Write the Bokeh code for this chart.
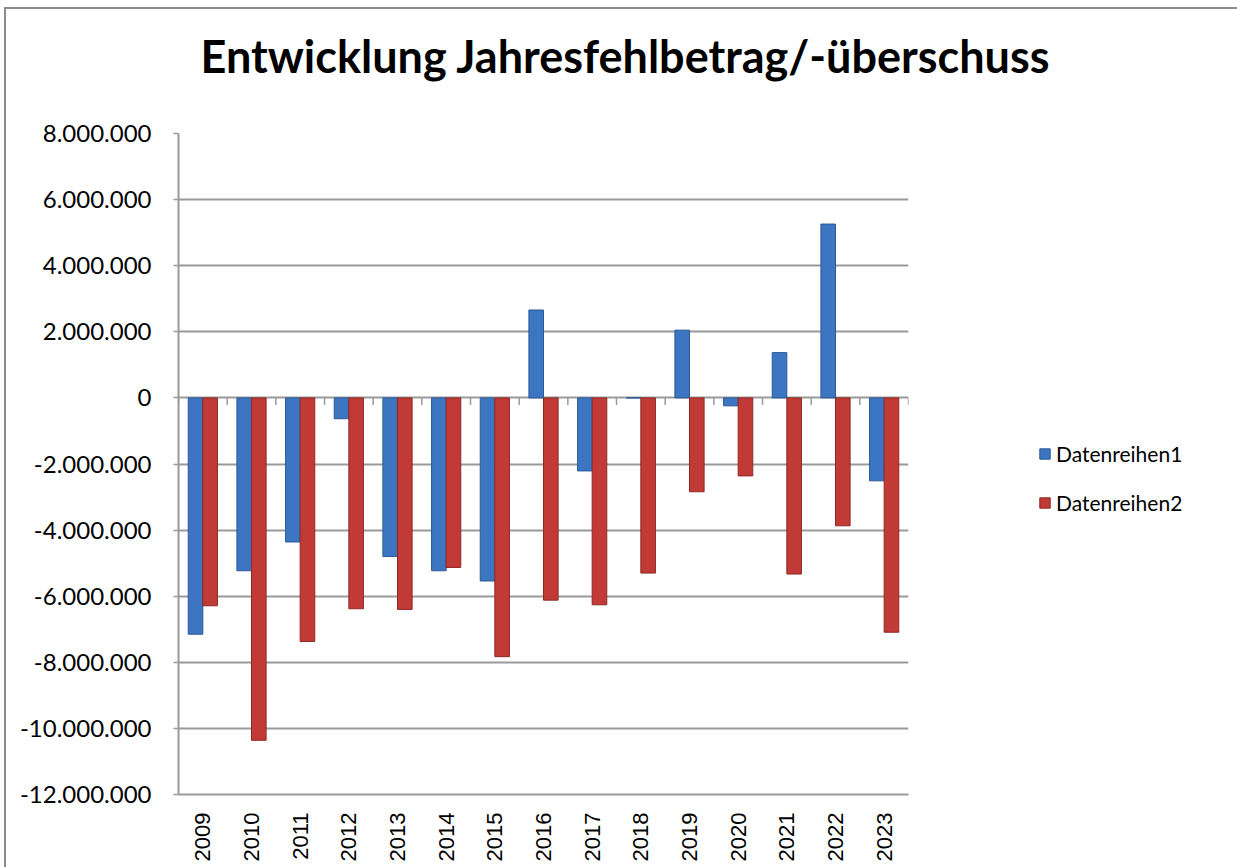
from bokeh.plotting import figure
from bokeh.models import (ColumnDataSource, FixedTicker, CustomJSTickFormatter,
                          Legend, LegendItem, Range1d, FactorRange, Title)
from bokeh.transform import dodge
from bokeh.embed import file_html
from bokeh.resources import INLINE

years = ["2009", "2010", "2011", "2012", "2013", "2014", "2015", "2016",
         "2017", "2018", "2019", "2020", "2021", "2022", "2023"]
datenreihen1 = [-7150000, -5230000, -4360000, -630000, -4800000, -5230000, -5540000,
                2660000, -2210000, 0, 2050000, -240000, 1370000, 5260000, -2510000]
datenreihen2 = [-6290000, -10360000, -7370000, -6380000, -6400000, -5130000, -7830000,
                -6120000, -6260000, -5300000, -2840000, -2360000, -5330000, -3870000, -7090000]
y_ticks = [-12000000, -10000000, -8000000, -6000000, -4000000, -2000000, 0,
           2000000, 4000000, 6000000, 8000000]
title_text = "Entwicklung Jahresfehlbetrag/-überschuss"
series_names = ["Datenreihen1", "Datenreihen2"]

BLUE = "#3c76c2"
BLUE_LINE = "#2b5a96"
RED = "#c13a35"
RED_LINE = "#8f2825"
GRID = "#9a9a9a"

src = ColumnDataSource(dict(year=years, s1=datenreihen1, s2=datenreihen2))

p = figure(frame_width=730, frame_height=661, x_range=FactorRange(*years),
           y_range=Range1d(y_ticks[0], y_ticks[-1]),
           output_backend="svg", toolbar_location=None,
           min_border_left=172, min_border_right=329,
           min_border_top=124, min_border_bottom=73)
p.margin = (7, 0, 0, 4)
p.styles = {"border": "2px solid #8c8c8c"}
p.title = None

# spacer between the title and the plot area, then the title itself
spacer = Title(text=" ", text_font_size="43px", standoff=0)
main_title = Title(text=title_text, align="left", offset=22,
                   text_font="Lato", text_font_style="bold",
                   text_font_size="45px", text_color="#000000", standoff=2)
p.add_layout(spacer, "above")
p.add_layout(main_title, "above")

r1 = p.vbar(x=dodge("year", -0.15, range=p.x_range), top="s1", width=0.3, source=src,
            fill_color=BLUE, line_color=BLUE_LINE, line_width=1)
r2 = p.vbar(x=dodge("year", 0.15, range=p.x_range), top="s2", width=0.3, source=src,
            fill_color=RED, line_color=RED_LINE, line_width=1)

# category tick marks on the zero line (at category boundaries)
tick_len = (y_ticks[-1] - y_ticks[0]) / 661 * 7
bounds = [(y, -0.5) for y in years] + [(years[-1], 0.5)]
p.segment(x0=bounds, y0=[0] * len(bounds), x1=bounds, y1=[-tick_len] * len(bounds),
          line_color=GRID, line_width=1.5)

p.yaxis.ticker = FixedTicker(ticks=y_ticks)
p.yaxis.formatter = CustomJSTickFormatter(code="""
    var s = Math.abs(Math.round(tick)).toString().replace(/\\B(?=(\\d{3})+(?!\\d))/g, ".");
    return (tick < 0 ? "-" : "") + s;
""")
p.yaxis.major_label_text_font = "Lato"
p.yaxis.major_label_text_font_size = "24px"
p.yaxis.major_label_text_color = "#000000"
p.yaxis.axis_line_color = GRID
p.yaxis.axis_line_width = 2
p.yaxis.major_tick_line_color = GRID
p.yaxis.major_tick_line_width = 1.5
p.yaxis.major_tick_out = 5
p.yaxis.major_tick_in = 0
p.yaxis.minor_tick_line_color = None
p.yaxis.major_label_standoff = 22

p.xaxis.major_label_orientation = 3.14159265 / 2
p.xaxis.major_label_text_font = "Liberation Sans"
p.xaxis.major_label_text_font_size = "22px"
p.xaxis.major_label_text_color = "#000000"
p.xaxis.axis_line_color = GRID
p.xaxis.axis_line_width = 2
p.xaxis.major_tick_line_color = None
p.xaxis.minor_tick_line_color = None
p.xaxis.major_label_standoff = 12

p.xgrid.grid_line_color = None
p.ygrid.grid_line_color = GRID
p.ygrid.grid_line_width = 2
p.outline_line_color = None

legend = Legend(items=[LegendItem(label=series_names[0], renderers=[r1]),
                       LegendItem(label=series_names[1], renderers=[r2])],
                location=(130, 279), orientation="vertical")
legend.label_text_font = "Lato"
legend.label_text_font_size = "21px"
legend.label_text_color = "#000000"
legend.glyph_width = 13
legend.glyph_height = 13
legend.label_height = 24
legend.spacing = 24
legend.padding = 0
legend.margin = 0
legend.label_standoff = 5
legend.border_line_color = None
legend.background_fill_color = None
p.add_layout(legend, "right")

open("out.html", "w").write(file_html(p, INLINE))
